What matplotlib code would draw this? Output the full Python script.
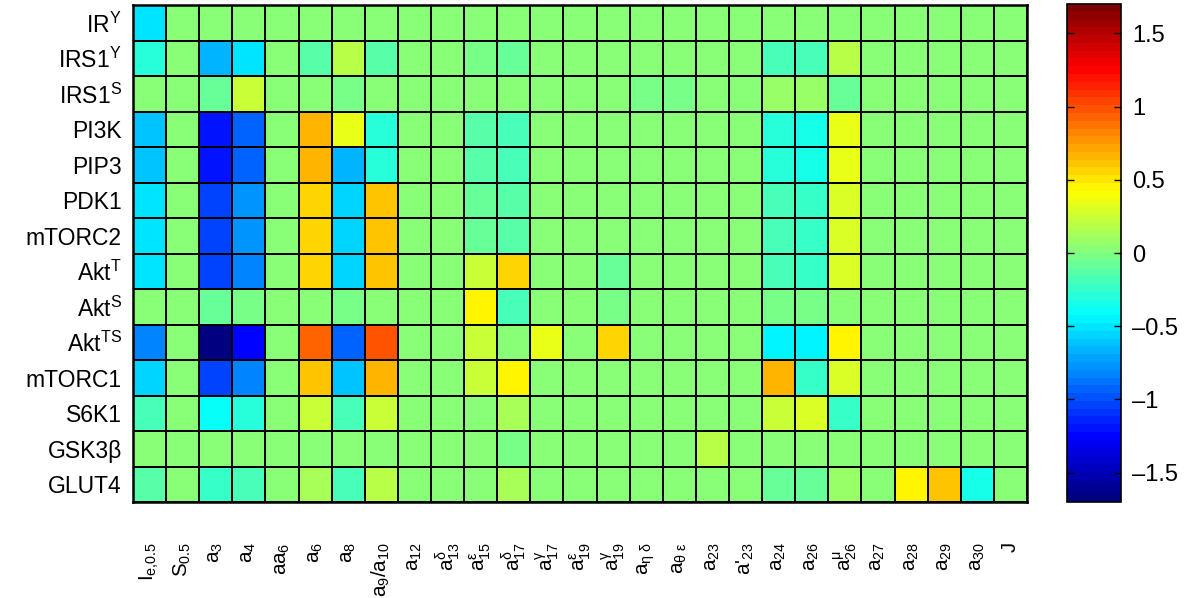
import numpy as np
import matplotlib
matplotlib.use('Agg')
import matplotlib.pyplot as plt
from matplotlib.colors import LinearSegmentedColormap

plt.rcParams['font.family'] = ['Liberation Sans', 'DejaVu Sans']
plt.rcParams['mathtext.fontset'] = 'custom'
plt.rcParams['mathtext.rm'] = 'Liberation Sans'
plt.rcParams['mathtext.it'] = 'Liberation Sans'
plt.rcParams['mathtext.bf'] = 'Liberation Sans:bold'
plt.rcParams['mathtext.sf'] = 'Liberation Sans'

# ---------------- data ----------------
row_labels = [r'IR$^{\mathrm{Y}}$', r'IRS1$^{\mathrm{Y}}$', r'IRS1$^{\mathrm{S}}$', 'PI3K', 'PIP3',
              'PDK1', 'mTORC2', r'Akt$^{\mathrm{T}}$', r'Akt$^{\mathrm{S}}$', r'Akt$^{\mathrm{TS}}$',
              'mTORC1', 'S6K1', 'GSK3β', 'GLUT4']

col_labels = [r'$\mathrm{I_{e{,}0.5}}$', r'$\mathrm{S_{0.5}}$', r'$\mathrm{a_{3}}$', r'$\mathrm{a_{4}}$',
              r'$\mathrm{aa_{6}}$', r'$\mathrm{a_{6}}$', r'$\mathrm{a_{8}}$', r'$\mathrm{a_{9}/a_{10}}$',
              r'$\mathrm{a_{12}}$', r'$\mathrm{a^{δ}_{13}}$', r'$\mathrm{a^{ε}_{15}}$', r'$\mathrm{a^{δ}_{17}}$',
              r'$\mathrm{a^{γ}_{17}}$', r'$\mathrm{a^{ε}_{19}}$', r'$\mathrm{a^{γ}_{19}}$', r'$\mathrm{a_{η\ δ}}$',
              r'$\mathrm{a_{θ\ ε}}$', r'$\mathrm{a_{23}}$', r"a'$\mathrm{_{23}}$", r'$\mathrm{a_{24}}$',
              r'$\mathrm{a_{26}}$', r'$\mathrm{a^{μ}_{26}}$', r'$\mathrm{a_{27}}$', r'$\mathrm{a_{28}}$',
              r'$\mathrm{a_{29}}$', r'$\mathrm{a_{30}}$', 'J']

# sensitivity values, one list per row (27 columns each)
values = [
    # IR^Y
    [-0.48, 0.03, 0.03, 0.03, 0.03, 0.03, 0.03, 0.03, 0.03, 0.03, 0.03, 0.03, 0.03, 0.03,
     0.03, 0.03, 0.03, 0.03, 0.03, 0.03, 0.03, 0.03, 0.03, 0.03, 0.03, 0.03, 0.03],
    # IRS1^Y
    [-0.29, 0.03, -0.64, -0.49, 0.03, -0.14, 0.16, -0.14, 0.03, 0.00, -0.05, -0.09, 0.03, 0.00,
     0.00, 0.03, 0.03, 0.03, 0.03, -0.16, -0.16, 0.21, 0.00, 0.03, 0.03, 0.03, 0.00],
    # IRS1^S
    [0.02, 0.03, -0.06, 0.23, 0.03, 0.05, -0.05, 0.05, 0.03, 0.03, 0.00, 0.05, 0.03, 0.03,
     0.03, -0.01, -0.01, 0.03, 0.03, 0.09, 0.09, -0.07, 0.00, 0.03, 0.03, 0.03, 0.03],
    # PI3K
    [-0.60, 0.03, -1.22, -0.94, 0.03, 0.66, 0.32, -0.30, 0.03, 0.03, -0.13, -0.18, 0.03, 0.00,
     0.03, 0.00, 0.03, 0.03, 0.03, -0.30, -0.32, 0.35, 0.00, 0.03, 0.03, 0.03, 0.00],
    # PIP3
    [-0.60, 0.03, -1.22, -0.94, 0.03, 0.66, -0.65, -0.30, 0.03, 0.03, -0.13, -0.18, 0.03, 0.00,
     0.00, 0.03, 0.03, 0.03, 0.03, -0.31, -0.33, 0.32, 0.00, 0.03, 0.03, 0.03, 0.00],
    # PDK1
    [-0.49, 0.03, -1.01, -0.75, 0.03, 0.55, -0.55, 0.62, 0.03, 0.03, -0.10, -0.14, 0.03, 0.00,
     0.03, 0.03, 0.03, 0.03, 0.03, -0.21, -0.26, 0.30, 0.00, 0.03, 0.03, 0.03, 0.00],
    # mTORC2
    [-0.49, 0.03, -1.01, -0.75, 0.03, 0.55, -0.55, 0.62, 0.03, 0.03, -0.10, -0.14, 0.03, 0.00,
     0.03, 0.03, 0.03, 0.03, 0.03, -0.21, -0.26, 0.30, 0.00, 0.03, 0.03, 0.03, 0.00],
    # Akt^T
    [-0.49, 0.03, -1.04, -0.80, 0.03, 0.55, -0.58, 0.63, 0.03, 0.03, 0.23, 0.54, 0.00, 0.03,
     -0.06, 0.00, 0.00, 0.03, 0.03, -0.21, -0.24, 0.30, 0.00, 0.03, 0.03, 0.03, 0.03],
    # Akt^S
    [0.03, 0.03, -0.06, -0.05, 0.03, 0.05, -0.05, 0.05, 0.03, 0.00, 0.43, -0.21, 0.00, 0.03,
     -0.05, 0.03, 0.00, 0.03, 0.03, -0.03, -0.03, 0.03, 0.00, 0.03, 0.03, 0.03, 0.03],
    # Akt^TS
    [-0.82, 0.03, -1.65, -1.25, 0.03, 0.91, -0.94, 0.99, 0.03, 0.03, 0.23, 0.05, 0.37, 0.03,
     0.55, 0.03, 0.00, 0.03, 0.03, -0.43, -0.43, 0.46, 0.00, 0.03, 0.03, 0.03, 0.03],
    # mTORC1
    [-0.54, 0.03, -1.04, -0.82, 0.03, 0.60, -0.62, 0.66, 0.03, 0.03, 0.23, 0.46, 0.03, 0.03,
     0.05, 0.03, 0.00, 0.03, 0.03, 0.69, -0.26, 0.30, 0.00, 0.03, 0.03, 0.03, 0.03],
    # S6K1
    [-0.18, 0.03, -0.39, -0.30, 0.03, 0.23, -0.21, 0.23, 0.03, 0.03, 0.04, 0.13, 0.03, 0.03,
     0.03, 0.03, 0.00, 0.03, 0.03, 0.23, 0.27, -0.24, 0.00, 0.03, 0.03, 0.03, 0.03],
    # GSK3beta
    [0.00, 0.03, 0.00, 0.00, 0.03, 0.02, 0.00, 0.03, 0.03, 0.00, 0.03, -0.03, 0.03, 0.03,
     0.03, 0.03, 0.00, 0.18, 0.03, 0.00, 0.00, 0.03, 0.00, 0.03, 0.03, 0.03, 0.03],
    # GLUT4
    [-0.14, 0.03, -0.26, -0.19, 0.03, 0.14, -0.16, 0.20, 0.03, 0.03, 0.04, 0.11, 0.03, 0.03,
     0.03, 0.03, 0.00, 0.03, 0.03, -0.06, -0.06, 0.07, 0.00, 0.43, 0.60, -0.34, 0.03],
]

cbar_ticks = [-1.5, -1, -0.5, 0, 0.5, 1, 1.5]
cbar_ticklabels = ['–1.5', '–1', '–0.5', '0', '0.5', '1', '1.5']
vmin, vmax = -1.7, 1.7

# ---------------- colormap (MATLAB jet) ----------------
jet_nodes = [(0.0, (0, 0, 0.5)), (1 / 8, (0, 0, 1)), (3 / 8, (0, 1, 1)),
             (5 / 8, (1, 1, 0)), (7 / 8, (1, 0, 0)), (1.0, (0.5, 0, 0))]
cmap = LinearSegmentedColormap.from_list('matlab_jet', jet_nodes, N=64)

# ---------------- figure ----------------
W, H = 1194, 598
fig = plt.figure(figsize=(W / 100, H / 100), dpi=100)
ax = fig.add_axes([133 / W, 1 - 502 / H, (1027 - 133) / W, (502 - 5) / H])

data = np.array(values)
nrow, ncol = data.shape
mesh = ax.pcolormesh(np.arange(ncol + 1), np.arange(nrow + 1), data, cmap=cmap,
                     vmin=vmin, vmax=vmax, edgecolors='k', linewidth=1.1)
ax.set_xlim(0, ncol)
ax.set_ylim(nrow, 0)

ax.set_yticks(np.arange(nrow) + 0.5)
ax.set_yticklabels(row_labels, fontsize=16.5)
ax.set_xticks(np.arange(ncol) + 0.5)
ax.set_xticklabels(col_labels, rotation=90, fontsize=14.8, va='top', ha='center')
ax.tick_params(axis='y', length=0, pad=8)
ax.tick_params(axis='x', length=0, pad=29)
for sp in ax.spines.values():
    sp.set_linewidth(1.8)

cax = fig.add_axes([1067 / W, 1 - 502 / H, 54 / W, (502 - 4) / H])
cb = fig.colorbar(mesh, cax=cax, ticks=cbar_ticks)
cb.ax.set_yticklabels(cbar_ticklabels)
cb.outline.set_linewidth(1.2)
cax.tick_params(direction='in', left=True, right=True, length=5, width=1,
                labelsize=17, pad=8)

fig.savefig('out.png', dpi=100)
